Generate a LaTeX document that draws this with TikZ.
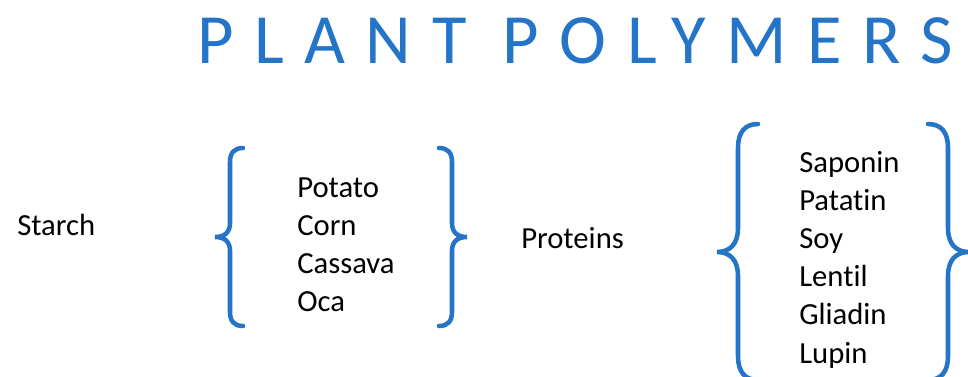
\documentclass[tikz,border=0pt]{standalone}
\usepackage{fontspec}
\setmainfont{Carlito}[Ligatures=NoCommon]
\definecolor{titleblue}{RGB}{36,116,200}

\begin{document}
\begin{tikzpicture}[x=0.75pt, y=-0.75pt,
  bracestyle/.style={draw=titleblue, line width=3.4pt, line cap=round},
  label/.style={anchor=base west, inner sep=0pt, font=\fontsize{23}{27}\selectfont}]

\useasboundingbox (0,0) rectangle (968,376);

% Title
\node[anchor=base west, inner sep=0pt, text=titleblue,
      font=\fontsize{53}{60}\selectfont\addfontfeatures{LetterSpace=29}]
      (title) at (197,63) {PLANT POLYMERS};

% Starch
\node[label] (starch) at (17,235) {Starch};
\draw[bracestyle] (243,148) .. controls (234,148) and (230,153) .. (230,162)
  -- (230,223) .. controls (230,232) and (225,237) .. (215,237)
  .. controls (225,237) and (230,242) .. (230,251)
  -- (230,312) .. controls (230,321) and (234,326) .. (243,326);
\foreach \i/\t in {0/Potato, 1/Corn, 2/Cassava, 3/Oca}
  \node[label] (s\i) at (297,{197+38.2*\i}) {\t};
\draw[bracestyle] (439,148) .. controls (448,148) and (452,153) .. (452,162)
  -- (452,223) .. controls (452,232) and (457,237) .. (467,237)
  .. controls (457,237) and (452,242) .. (452,251)
  -- (452,312) .. controls (452,321) and (448,326) .. (439,326);

% Proteins
\node[label] (proteins) at (521,248) {Proteins};
\draw[bracestyle] (758,124) .. controls (745,124) and (738,132) .. (738,148)
  -- (738,228) .. controls (738,244) and (730,252) .. (717,252)
  .. controls (730,252) and (738,260) .. (738,276)
  -- (738,356) .. controls (738,372) and (745,380) .. (758,380);
\foreach \i/\t in {0/Saponin, 1/Patatin, 2/Soy, 3/Lentil, 4/Gliadin, 5/Lupin}
  \node[label] (p\i) at (799,{172+38.2*\i}) {\t};
\draw[bracestyle] (928,124) .. controls (941,124) and (948,132) .. (948,148)
  -- (948,228) .. controls (948,244) and (956,252) .. (969,252)
  .. controls (956,252) and (948,260) .. (948,276)
  -- (948,356) .. controls (948,372) and (941,380) .. (928,380);

\end{tikzpicture}
\end{document}
